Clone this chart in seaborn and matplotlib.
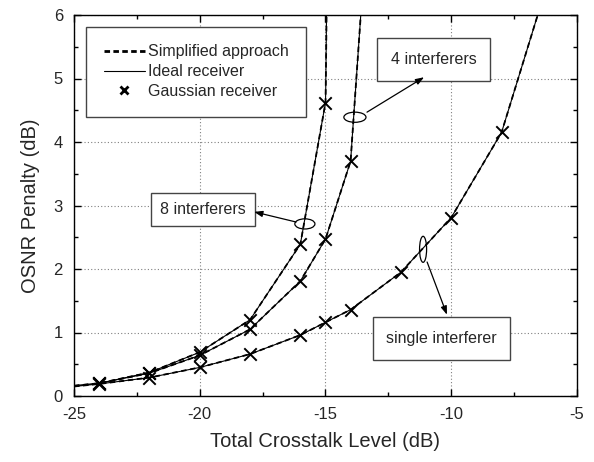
import numpy as np
import pandas as pd
import matplotlib
matplotlib.use("Agg")
import matplotlib.pyplot as plt
from matplotlib.lines import Line2D
from matplotlib.patches import Ellipse
import seaborn as sns

# ---- data ----
x_8 = [-25, -24, -22, -20, -18, -16, -15, -14.99, -14.95]
y_8 = [0.16, 0.20, 0.37, 0.69, 1.20, 2.39, 4.62, 4.85, 6.3]
mx_8 = [-24, -22, -20, -18, -16, -15]
my_8 = [0.20, 0.37, 0.69, 1.20, 2.39, 4.62]

x_4 = [-25, -24, -22, -20, -18, -16, -15, -14, -13.95, -13.58]
y_4 = [0.16, 0.20, 0.36, 0.64, 1.05, 1.81, 2.47, 3.70, 4.0, 6.1]
mx_4 = [-24, -22, -20, -18, -16, -15, -14]
my_4 = [0.20, 0.36, 0.64, 1.05, 1.81, 2.47, 3.70]

x_1 = [-25, -24, -22, -20, -18, -16, -15, -14, -12, -10, -8, -6.5]
y_1 = [0.15, 0.19, 0.29, 0.45, 0.66, 0.96, 1.16, 1.36, 1.95, 2.81, 4.15, 6.08]
mx_1 = [-24, -22, -20, -18, -16, -15, -14, -12, -10, -8]
my_1 = [0.19, 0.29, 0.45, 0.66, 0.96, 1.16, 1.36, 1.95, 2.81, 4.15]

legend_labels = ["Simplified approach", "Ideal receiver", "Gaussian receiver"]
box_labels = ["8 interferers", "4 interferers", "single interferer"]
xticks = [-25, -20, -15, -10, -5]
yticks = [0, 1, 2, 3, 4, 5, 6]

sns.set_style("ticks")
plt.rcParams['font.family'] = ['Liberation Sans', 'DejaVu Sans']
plt.rcParams['axes.unicode_minus'] = False

fig = plt.figure(figsize=(5.94, 4.62), dpi=100)
ax = fig.add_axes([74/594, 1-396/462, (577-74)/594, (396-15)/462])

for xs, ys, mxs, mys in [(x_8, y_8, mx_8, my_8), (x_4, y_4, mx_4, my_4), (x_1, y_1, mx_1, my_1)]:
    df = pd.DataFrame({"x": xs, "y": ys})
    sns.lineplot(data=df, x="x", y="y", ax=ax, color="black", lw=1.3,
                 linestyle=(0, (3, 2)), sort=False, estimator=None)
    sns.lineplot(data=df, x="x", y="y", ax=ax, color="black", lw=0.8,
                 sort=False, estimator=None)
    dm = pd.DataFrame({"x": mxs, "y": mys})
    sns.scatterplot(data=dm, x="x", y="y", ax=ax, marker="x", color="black",
                    s=80, linewidth=1.4, zorder=5)

ax.set_xlim(-25, -5)
ax.set_ylim(0, 6)
ax.set_xticks(xticks)
ax.set_yticks(yticks)
ax.set_xticks(np.arange(-25, -4, 2.5), minor=True)
ax.set_yticks(np.arange(0, 6.01, 0.5), minor=True)
ax.tick_params(which="both", direction="in", top=True, right=True, labelsize=12,
               width=1, color="black", pad=8)
ax.tick_params(which="major", length=5)
ax.tick_params(which="minor", length=3)
ax.grid(True, which="major", linestyle=(0, (1, 2)), color="gray", lw=0.8)
for s in ax.spines.values():
    s.set_color("black")
    s.set_linewidth(1.0)
ax.set_xlabel("Total Crosstalk Level (dB)", fontsize=14.5, labelpad=7)
ax.set_ylabel("OSNR Penalty (dB)", fontsize=14.5, labelpad=10)

handles = [Line2D([], [], color="black", lw=2.0, linestyle=(0, (2, 1.2))),
           Line2D([], [], color="black", lw=0.8),
           Line2D([], [], color="black", lw=0, marker="x", markersize=6, mew=2)]
leg = ax.legend(handles, legend_labels, loc="upper left", bbox_to_anchor=(0.024, 0.969),
                fontsize=11.5, frameon=True, fancybox=False, edgecolor="#444444",
                framealpha=1, handlelength=2.6, handletextpad=0.15, labelspacing=0.3,
                borderpad=1.1, borderaxespad=0)
leg.get_frame().set_linewidth(1.0)

# annotation boxes
box_pos = [(-19.87, 2.937, 0.55), (-10.71, 5.30, 0.85), (-10.39, 0.906, 0.85)]
for lab, (bx, by, pad) in zip(box_labels, box_pos):
    ax.text(bx, by, lab, fontsize=11.5, ha="center", va="center", zorder=6,
            bbox=dict(boxstyle=f"square,pad={pad}", fc="white", ec="#444444", lw=1.0))

ellipses = [(-15.82, 2.71, 0.80, 0.16), (-13.83, 4.39, 0.88, 0.16), (-11.12, 2.31, 0.28, 0.41)]
for ex, ey, ew, eh in ellipses:
    ax.add_patch(Ellipse((ex, ey), ew, eh, fill=False, ec="black", lw=0.9, zorder=6))

arrows = [((-16.17, 2.74), (-17.84, 2.90)), ((-13.35, 4.47), (-11.08, 5.02)),
          ((-10.96, 2.11), (-10.17, 1.28))]
for start, end in arrows:
    ax.annotate("", xy=end, xytext=start, zorder=6,
                arrowprops=dict(arrowstyle="-|>,head_length=0.5,head_width=0.18",
                                color="black", lw=0.9, shrinkA=0, shrinkB=0))

fig.savefig("out.png", dpi=100)
